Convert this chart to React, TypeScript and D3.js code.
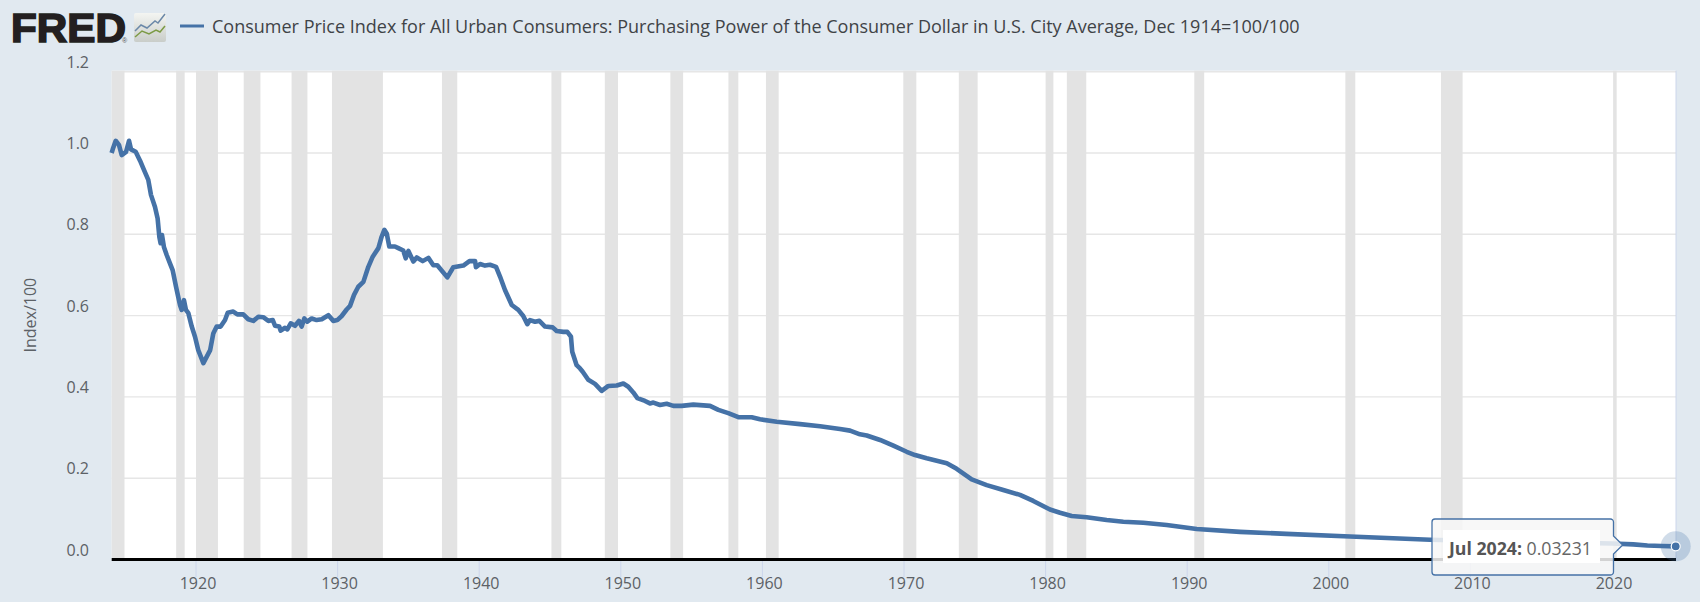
import { useEffect } from "react"
import * as d3 from "d3"

const lineYears = [
  1914.04, 1914.12, 1914.33, 1914.56, 1914.75, 1915.06, 1915.27, 1915.41, 1915.74, 1916.05, 1916.28, 1916.63, 1916.82, 1917.1, 1917.29, 1917.41, 1917.5, 1917.6, 1917.74, 1917.93,
  1918.21, 1918.35, 1918.59, 1918.87, 1918.99, 1919.15, 1919.29, 1919.46, 1919.7, 1919.93, 1920.16, 1920.52, 1920.76, 1921.0, 1921.22, 1921.46, 1921.74, 1922.05, 1922.24,
  1922.63, 1922.92, 1923.34, 1923.69, 1924.05, 1924.4, 1924.75, 1925.11, 1925.42, 1925.58, 1925.88, 1925.98, 1926.29, 1926.45, 1926.69, 1926.99, 1927.27, 1927.46, 1927.65, 1927.86,
  1928.17, 1928.52, 1928.88, 1929.35, 1929.7, 1929.98, 1930.29, 1930.64, 1930.88, 1931.16, 1931.46, 1931.82, 1932.17, 1932.48, 1932.88, 1933.11, 1933.3, 1933.47, 1933.65,
  1934.05, 1934.29, 1934.64, 1934.81, 1935.0, 1935.35, 1935.59, 1936.01, 1936.41, 1936.76, 1937.04, 1937.75, 1938.17, 1938.88, 1939.31, 1939.71, 1939.77, 1940.06, 1940.41, 1940.76,
  1941.19, 1941.47, 1941.82, 1942.3, 1942.76, 1943.11, 1943.4, 1943.59, 1943.94, 1944.25, 1944.65, 1945.19, 1945.47, 1945.94, 1946.22, 1946.48, 1946.57, 1946.88, 1947.12, 1947.31,
  1947.7, 1948.18, 1948.65, 1949.12, 1949.71, 1950.18, 1950.53, 1950.88, 1951.17, 1951.71, 1952.06, 1952.3, 1952.77, 1953.24, 1953.71, 1954.3, 1955.12, 1956.3, 1956.89, 1957.59,
  1958.3, 1959.24, 1959.83, 1961.01, 1962.66, 1964.07, 1965.48, 1966.19, 1966.89, 1967.37, 1968.31, 1969.25, 1970.19, 1970.78, 1971.6, 1973.02, 1973.72, 1974.78, 1975.84, 1977.01,
  1978.19, 1979.13, 1980.31, 1981.02, 1981.84, 1982.9, 1984.31, 1985.49, 1986.9, 1988.55, 1990.67, 1993.73, 1997.0, 2001.5, 2007.15, 2010.0, 2015.0, 2020.0, 2021.5, 2022.5, 2023.5, 2024.5,
]
const lineValues = [
  1.0, 1.009, 1.03, 1.02, 0.995, 1.003, 1.03, 1.009, 1.003, 0.981, 0.962, 0.934, 0.897, 0.868, 0.839, 0.794, 0.778, 0.798, 0.768, 0.749,
  0.724, 0.712, 0.671, 0.626, 0.614, 0.638, 0.614, 0.606, 0.573, 0.548, 0.515, 0.483, 0.499, 0.515, 0.556, 0.573, 0.573, 0.589, 0.607,
  0.61, 0.603, 0.603, 0.591, 0.587, 0.597, 0.596, 0.587, 0.589, 0.575, 0.573, 0.563, 0.57, 0.566, 0.581, 0.575, 0.587, 0.573, 0.593, 0.585,
  0.593, 0.589, 0.591, 0.601, 0.587, 0.589, 0.599, 0.615, 0.624, 0.651, 0.671, 0.683, 0.72, 0.745, 0.766, 0.794, 0.811, 0.802, 0.77,
  0.77, 0.766, 0.76, 0.741, 0.759, 0.733, 0.743, 0.734, 0.742, 0.724, 0.724, 0.694, 0.719, 0.723, 0.734, 0.734, 0.719, 0.727, 0.723, 0.725,
  0.72, 0.696, 0.663, 0.626, 0.614, 0.599, 0.579, 0.589, 0.585, 0.587, 0.573, 0.571, 0.562, 0.56, 0.56, 0.548, 0.511, 0.478, 0.47, 0.462,
  0.442, 0.432, 0.415, 0.427, 0.428, 0.433, 0.425, 0.411, 0.397, 0.39, 0.384, 0.386, 0.38, 0.383, 0.378, 0.378, 0.381, 0.378, 0.368, 0.36,
  0.35, 0.35, 0.345, 0.339, 0.333, 0.328, 0.321, 0.317, 0.308, 0.305, 0.294, 0.28, 0.265, 0.257, 0.249, 0.237, 0.223, 0.197, 0.183, 0.171,
  0.159, 0.144, 0.123, 0.115, 0.107, 0.104, 0.097, 0.093, 0.0905, 0.085, 0.075, 0.068, 0.063, 0.0565, 0.0484, 0.0462, 0.0427, 0.0393, 0.0373, 0.0343, 0.0332, 0.03231,
]

const recessionStarts = [1913.0, 1918.6, 1920.0, 1923.37, 1926.75, 1929.6, 1937.37, 1945.1, 1948.87, 1953.5, 1957.6, 1960.25, 1969.95, 1973.87, 1980.0, 1981.5, 1990.5, 2001.17, 2007.92, 2020.08]
const recessionEnds = [1914.95, 1919.2, 1921.55, 1924.55, 1927.87, 1933.2, 1938.45, 1945.8, 1949.8, 1954.4, 1958.3, 1961.15, 1970.87, 1975.2, 1980.55, 1982.87, 1991.2, 2001.87, 2009.45, 2020.33]

const xTicks = [1920, 1930, 1940, 1950, 1960, 1970, 1980, 1990, 2000, 2010, 2020]
const yTicks = [0, 0.2, 0.4, 0.6, 0.8, 1.0, 1.2]

const seriesTitle = "Consumer Price Index for All Urban Consumers: Purchasing Power of the Consumer Dollar in U.S. City Average, Dec 1914=100/100"
const yTitle = "Index/100"
const tipDate = "Jul 2024:"
const tipValue = "0.03231"

const LINE = "#4572a7"
const FONT = "'Open Sans', sans-serif"
const plot = { left: 111.7, right: 1676, top: 70.7, bottom: 559.5 }

export default function App() {
  // x goes through 1920 -> 196px and 2020 -> 1612px
  const x = d3.scaleLinear().domain([1920, 2020]).range([196, 1612])
  const y = d3.scaleLinear().domain([0, 1.2]).range([plot.bottom, plot.bottom - 1.2 * 406.5])
  const points = lineYears.map((yr, i) => [yr, lineValues[i]] as [number, number])
  const path = d3.line<[number, number]>().x((d) => x(d[0])).y((d) => y(d[1]))(points) || ""

  useEffect(() => {
    document.body.style.margin = "0"
    document.body.style.background = "#e1e9f0"
  }, [])

  const lastX = x(2024.5)
  const lastY = y(0.03231)

  return (
    <svg width={1700} height={602} style={{ display: "block", fontFamily: FONT }}>
      <defs>
        <linearGradient id="tile" x1="0" y1="0" x2="0" y2="1">
          <stop offset="0%" stopColor="#f4f5f2" />
          <stop offset="100%" stopColor="#c9cdc9" />
        </linearGradient>
      </defs>
      <rect width={1700} height={602} fill="#e1e9f0" />

      {/* logo */}
      <text x={11} y={42} fontFamily="'Liberation Sans', sans-serif" fontWeight={700} fontSize={40} fill="#231f20" stroke="#231f20" strokeWidth={1.6} textLength={115} lengthAdjust="spacingAndGlyphs">FRED</text>
      <text x={122} y={43} fontFamily="'Liberation Sans', sans-serif" fontSize={7} fill="#555">®</text>
      <rect x={134} y={13} width={32} height={29} rx={2} fill="url(#tile)" />
      <path d="M135,31 L141,25 L147,28 L155,21 L158,23 L165,14" fill="none" stroke="#6b88a8" strokeWidth={1.5} />
      <path d="M135,37 L142,31 L149,34 L156,30 L160,32 L165,26" fill="none" stroke="#7c9a45" strokeWidth={1.5} />

      {/* legend */}
      <line x1={180} x2={204} y1={26} y2={26} stroke={LINE} strokeWidth={3} />
      <text x={212} y={33} fontSize={18} fill="#3f4347">{seriesTitle}</text>

      {/* plot area */}
      <rect x={plot.left} y={plot.top} width={plot.right - plot.left} height={plot.bottom - plot.top} fill="#fff" />
      {yTicks.filter((t) => t > 0).map((t) => (
        <line key={t} x1={plot.left} x2={plot.right} y1={y(t)} y2={y(t)} stroke="#e6e6e6" strokeWidth={1.4} />
      ))}
      {recessionStarts.map((s, i) => (
        <rect
          key={s}
          x={Math.max(x(s), plot.left)}
          y={plot.top}
          width={x(recessionEnds[i]) - Math.max(x(s), plot.left)}
          height={plot.bottom - plot.top}
          fill="#e3e3e3"
        />
      ))}
      <line x1={plot.right} x2={plot.right} y1={plot.top} y2={plot.bottom} stroke="#ccd6eb" strokeWidth={1} />

      {/* axes */}
      {xTicks.map((t) => (
        <g key={t}>
          <line x1={x(t)} x2={x(t)} y1={plot.bottom} y2={577} stroke="#ccd6eb" strokeWidth={1} />
          <text x={x(t) + 2} y={589} textAnchor="middle" fontSize={16} fill="#5c6166">{t}</text>
        </g>
      ))}
      {yTicks.map((t) => (
        <text key={t} x={89} y={y(t) - 4} textAnchor="end" fontSize={16} fill="#5c6166">{t.toFixed(1)}</text>
      ))}
      <text transform={`translate(36,${(plot.top + plot.bottom) / 2}) rotate(-90)`} textAnchor="middle" fontSize={16} fill="#5c6166">{yTitle}</text>
      <line x1={plot.left} x2={plot.right} y1={plot.bottom} y2={plot.bottom} stroke="#000" strokeWidth={3} />

      {/* series */}
      <path d={path} fill="none" stroke={LINE} strokeWidth={4.6} strokeLinejoin="round" />
      <circle cx={lastX} cy={lastY} r={15} fill={LINE} fillOpacity={0.25} />
      <circle cx={lastX} cy={lastY} r={4.5} fill={LINE} stroke="#fff" strokeWidth={1.2} />

      {/* tooltip */}
      <path
        d="M1435,519 H1610.5 a3,3 0 0 1 3,3 V536 L1622.7,545 L1613.5,554 V572 a3,3 0 0 1 -3,3 H1435 a3,3 0 0 1 -3,-3 V522 a3,3 0 0 1 3,-3 Z"
        fill="#f7f7f7"
        fillOpacity={0.85}
        stroke={LINE}
        strokeWidth={1.3}
      />
      <rect x={1443} y={530} width={157} height={33} fill="#fff" />
      <text x={1449} y={555} fontSize={17.7} fill="#666">
        <tspan fontWeight={700} fill="#555">{tipDate}</tspan>
        <tspan> {tipValue}</tspan>
      </text>
    </svg>
  )
}
